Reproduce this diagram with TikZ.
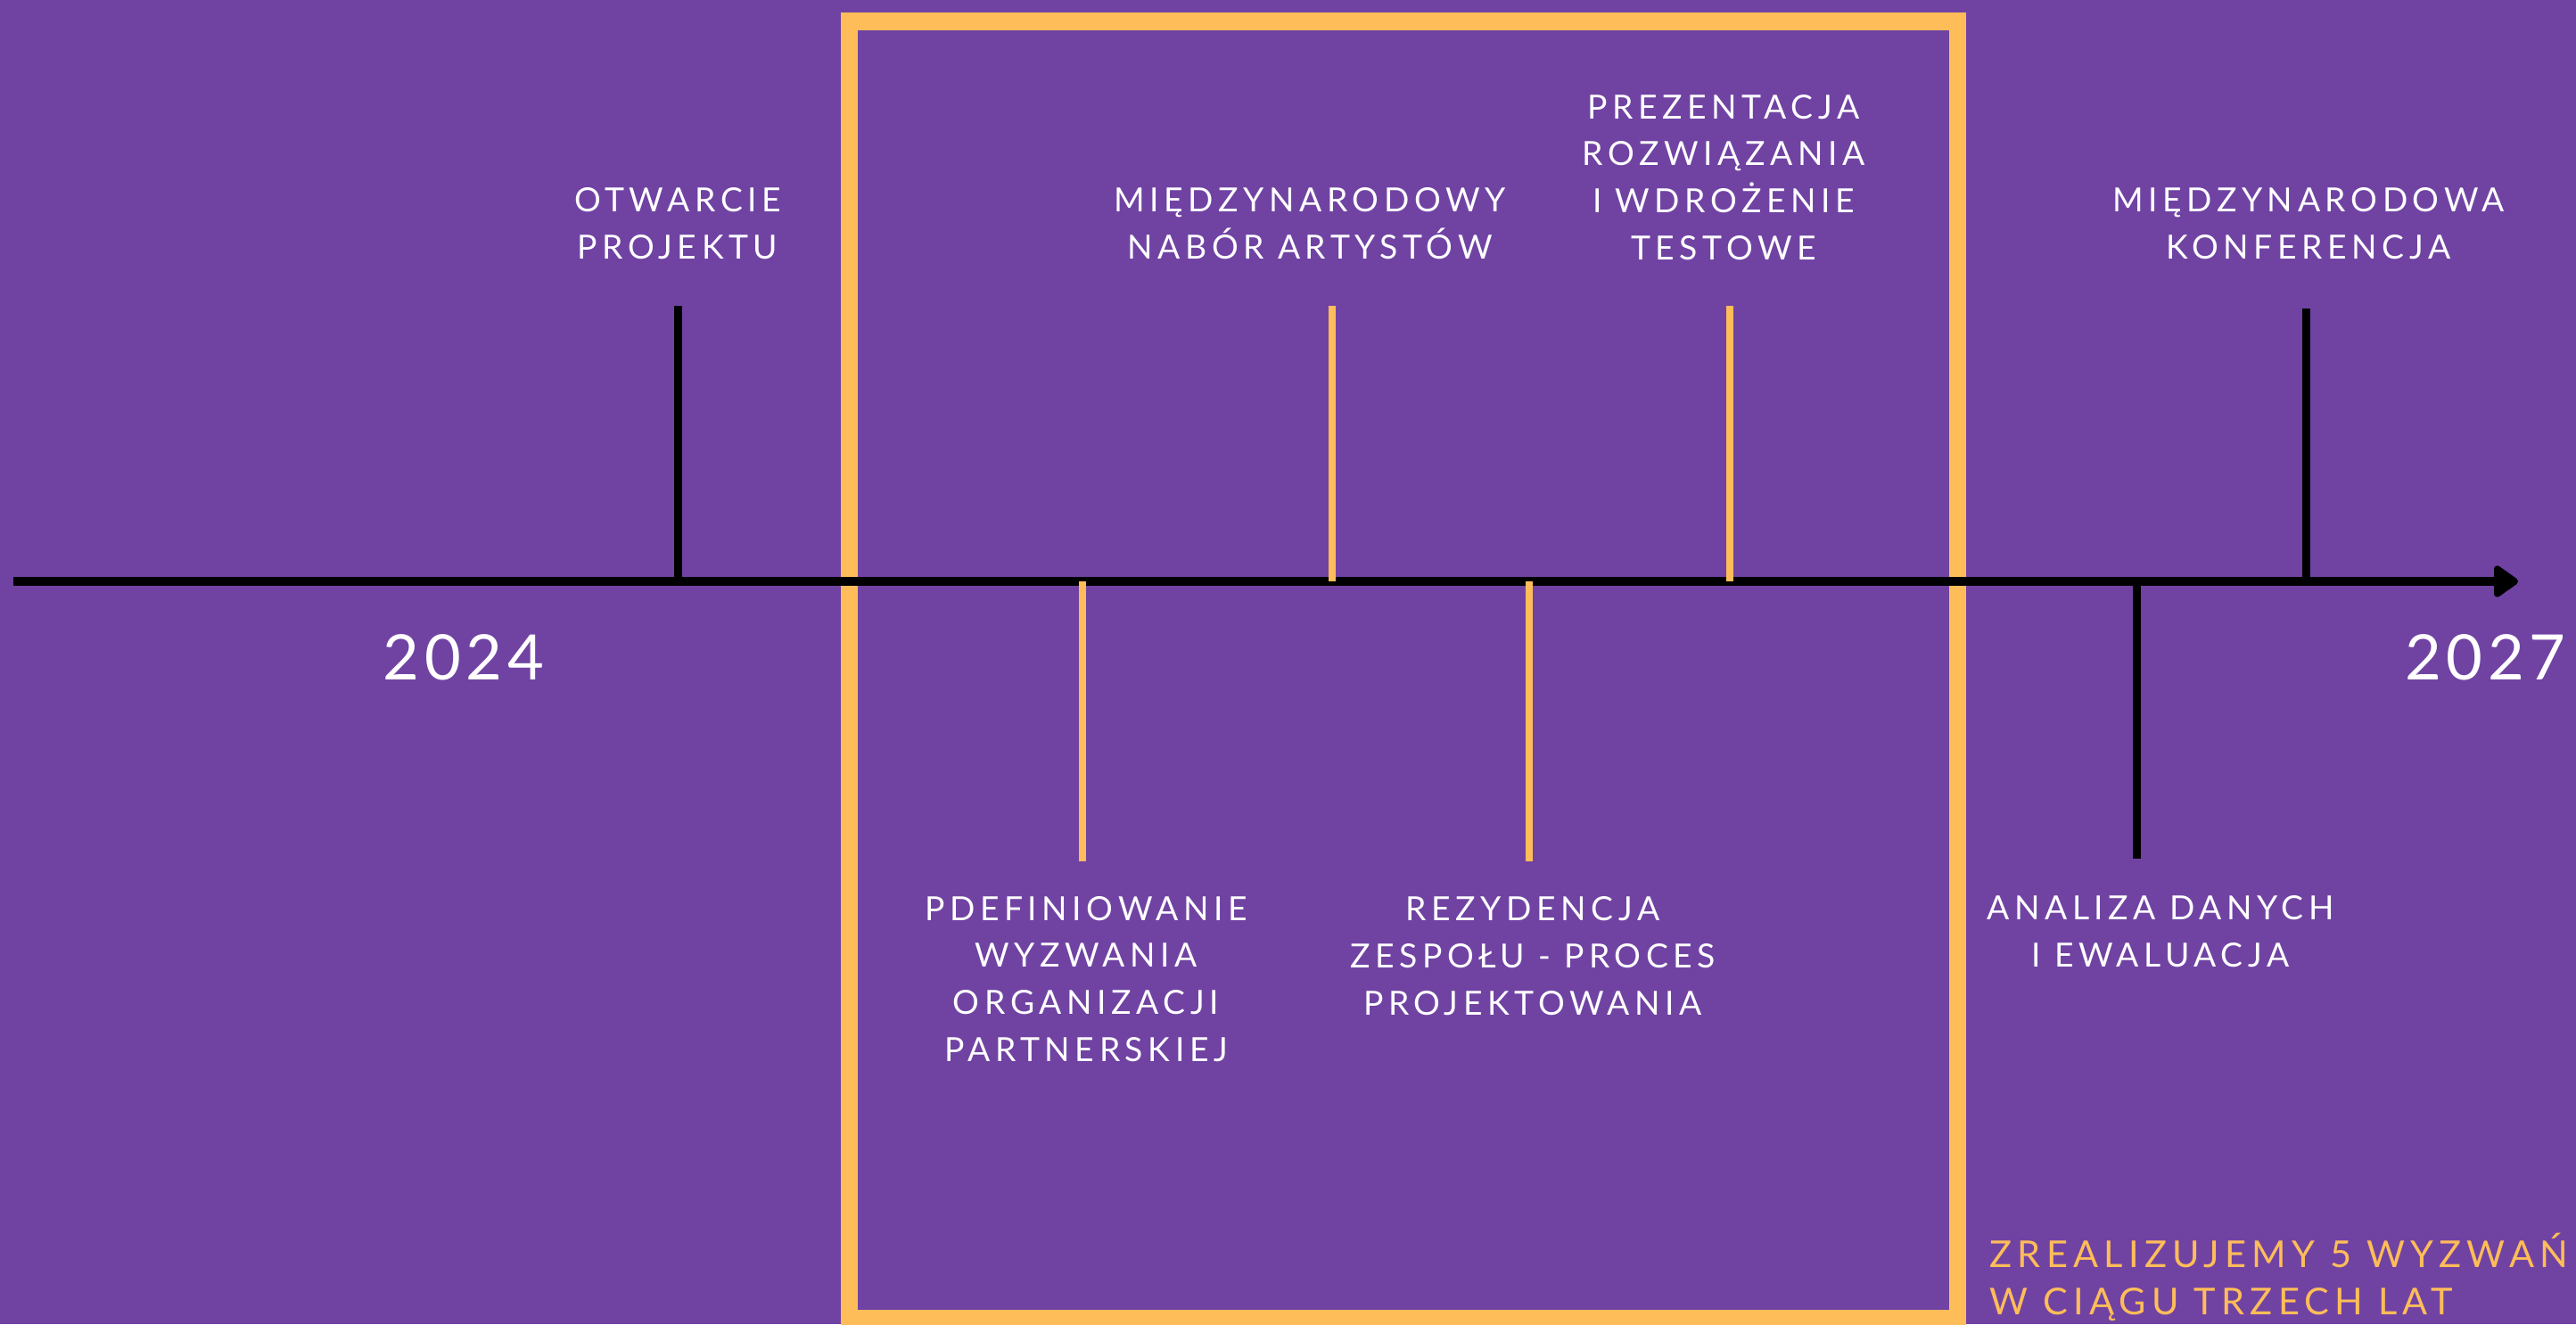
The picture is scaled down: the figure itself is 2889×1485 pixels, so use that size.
\documentclass[tikz,border=0pt]{standalone}
\usepackage{fontspec}
\setmainfont{Lato}[LetterSpace=15]
\usepackage{tikz}
\usetikzlibrary{positioning, arrows.meta}

\definecolor{bgpurple}{HTML}{7043A3}
\definecolor{frameorange}{HTML}{FFBD59}

\begin{document}
\begin{tikzpicture}[x=0.01cm, y=-0.01cm,
    event/.style={text=white, align=center, inner sep=0pt, font=\fontsize{10.6}{15}\selectfont},
    year/.style={text=white, inner sep=0pt, font=\fontsize{20}{24}\selectfont\addfontfeatures{LetterSpace=8}},
    blacktick/.style={black, line width=0.09cm},
    orangetick/.style={frameorange, line width=0.085cm}]

            % background
            \fill[bgpurple] (0,0) rectangle (2889,1485);
            \useasboundingbox (0,0) rectangle (2889,1485);

            % frame of the three years
            \draw[frameorange, line width=0.19cm] (952,24) rectangle (2195,1478);

            % axis
            \coordinate (start) at (15,652);
            \coordinate (end) at (2824,652);
            \draw[line width=0.1cm, -{Triangle[round, length=0.3cm, width=0.4cm]}] (start) -- (end);

            % points on the axis
            \coordinate (a1) at (760,652);
            \coordinate (a2) at (1214,652);
            \coordinate (a3) at (1494,652);
            \coordinate (a4) at (1715,652);
            \coordinate (a5) at (1940,652);
            \coordinate (a6) at (2396,652);
            \coordinate (a7) at (2586,652);

            % tick ends
            \coordinate (t1) at (760,343);
            \coordinate (t2) at (1214,966);
            \coordinate (t3) at (1494,343);
            \coordinate (t4) at (1715,966);
            \coordinate (t5) at (1940,343);
            \coordinate (t6) at (2396,963);
            \coordinate (t7) at (2586,346);

            % Draw ticks
            \draw[blacktick] (a1) -- (t1);
            \draw[orangetick] (a2) -- (t2);
            \draw[orangetick] (a3) -- (t3);
            \draw[orangetick] (a4) -- (t4);
            \draw[orangetick] (a5) -- (t5);
            \draw[blacktick] (a6) -- (t6);
            \draw[blacktick] (a7) -- (t7);

            % labels
            \node[event] (otwarcie) at (760,251) {OTWARCIE\\PROJEKTU};
            \node[event] (nabor) at (1469,251) {MIĘDZYNARODOWY\\NABÓR ARTYSTÓW};
            \node[event] (prezentacja) at (1933,199) {PREZENTACJA\\ROZWIĄZANIA\\I WDROŻENIE\\TESTOWE};
            \node[event] (konferencja) at (2589,251) {MIĘDZYNARODOWA\\KONFERENCJA};
            \node[event] (definiowanie) at (1218,1098) {PDEFINIOWANIE\\WYZWANIA\\ORGANIZACJI\\PARTNERSKIEJ};
            \node[event] (rezydencja) at (1719,1072) {REZYDENCJA\\ZESPOŁU - PROCES\\PROJEKTOWANIA};
            \node[event] (analiza) at (2423,1045) {ANALIZA DANYCH\\I EWALUACJA};
            \node[event, text=frameorange, align=left, anchor=west, font=\fontsize{11.8}{15}\selectfont] (wyzwania) at (2231,1432) {ZREALIZUJEMY 5 WYZWAŃ\\W CIĄGU TRZECH LAT};

            \node[year] (y2024) at (520,737) {2024};
            \node[year, anchor=east] (y2027) at (2878,737) {2027};
        \end{tikzpicture}
\end{document}
